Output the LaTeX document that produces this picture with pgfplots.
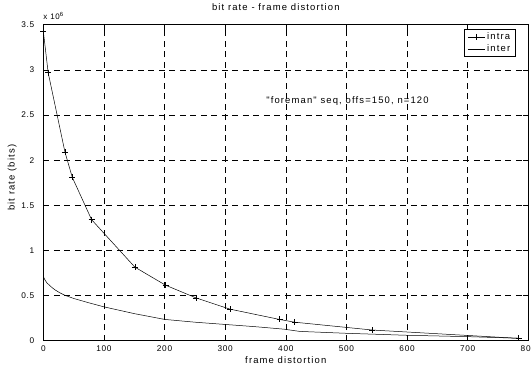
\documentclass[border=0pt]{standalone}
\usepackage{fontspec}
\setmainfont{Liberation Sans}
\newfontfamily\mlfont[LetterSpace=12]{Liberation Sans}
\newfontfamily\tkfont[LetterSpace=8]{Liberation Sans}
\usepackage{pgfplots}
\pgfplotsset{compat=1.18}
\pgfplotstableread{
x y
0 3.43
8 2.97
35.7 2.09
47.8 1.81
79.7 1.34
151 0.815
201.6 0.615
251.6 0.475
307.6 0.35
390 0.235
414.6 0.205
543 0.118
784 0.026
}\intra
\pgfplotstableread{
x y
0 0.71
3 0.67
6 0.64
10 0.615
15 0.585
20 0.56
27.5 0.53
35 0.505
50 0.468
75 0.42
100 0.375
150 0.3
200 0.236
250 0.205
300 0.18
350 0.155
398 0.127
423 0.103
500 0.082
600 0.06
700 0.045
785 0.027
}\inter
\begin{document}
\begin{tikzpicture}
\begin{axis}[
  scale only axis, width=485bp, height=316bp,
  xmin=0, xmax=800, ymin=0, ymax=3.5,
  xtick={0,100,...,800}, ytick={0,0.5,...,3.5},
  axis line style={line width=0.7pt},
  grid=major,
  major grid style={black, line width=0.5pt, dash pattern=on 6bp off 4.5bp},
  tick align=inside, major tick length=5bp,
  tick style={black, line width=0.5pt},
  /pgf/number format/assume math mode=true,
  /pgf/number format/fixed,
  ticklabel style={font=\tkfont\fontsize{8.3}{10}\selectfont},
  yticklabel style={xshift=-5.5bp},
  xticklabel style={yshift=-1.5bp},
  xlabel={frame distortion},
  xlabel style={font=\mlfont\fontsize{9.5}{11}\selectfont, at={(axis description cs:0.5,0)}, anchor=north, yshift=-12bp},
  ylabel={bit rate (bits)},
  ylabel style={font=\mlfont\fontsize{9.5}{11}\selectfont, at={(axis description cs:0,0.5)}, anchor=center, yshift=31bp, xshift=5bp},
  title={bit rate - frame distortion},
  title style={font=\mlfont\fontsize{9.5}{11}\selectfont, at={(axis description cs:0.5,1)}, anchor=base, yshift=8bp, xshift=-10bp},
  legend style={at={(rel axis cs:0.975,0.987)}, anchor=north east, draw=black, line width=1pt,
    font=\mlfont\fontsize{9.5}{11}\selectfont, inner xsep=3.5bp, inner ysep=1.5bp, row sep=0pt},
  legend cell align=left,
  clip=false,
]
\addplot[black, line width=0.5pt, mark=+, mark size=3bp, mark options={line width=0.5pt}] table[x=x,y=y]{\intra};
\addlegendentry{intra}
\addplot[black, line width=0.5pt, no marks] table[x=x,y=y]{\inter};
\addlegendentry{inter}
\node[font=\mlfont\fontsize{9.5}{11}\selectfont, anchor=base west] at (axis cs:362,2.63) {"foreman" seq, offs=150, n=120};
\node[font=\tkfont\fontsize{8}{9}\selectfont, anchor=base west, inner sep=0pt] at ([yshift=5bp]rel axis cs:0,1) {x 10\textsuperscript{6}};
\end{axis}
\pgfresetboundingbox
\path[use as bounding box] (-43.3bp,-25.3bp) rectangle (487.7bp,340.7bp);
\end{tikzpicture}
\end{document}
